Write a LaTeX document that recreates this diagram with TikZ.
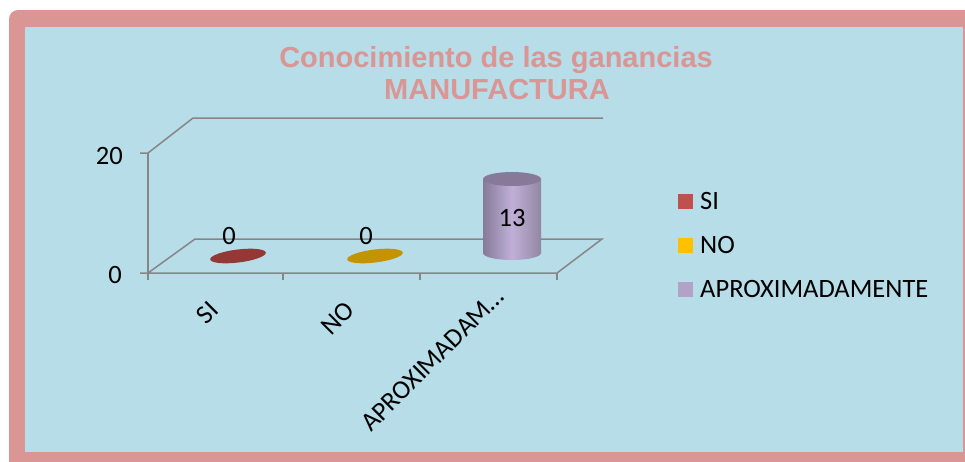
\documentclass[tikz,border=0pt]{standalone}
\usepackage{fontspec}
\setmainfont{Carlito}
\newfontfamily\titlefont{Liberation Sans}
\definecolor{framepink}{RGB}{217,150,148}
\definecolor{plotcyan}{RGB}{183,221,232}
\definecolor{axisgray}{RGB}{134,134,134}
\definecolor{siRed}{RGB}{192,80,77}
\definecolor{siDark}{RGB}{148,56,54}
\definecolor{noGold}{RGB}{255,192,0}
\definecolor{noDark}{RGB}{196,148,0}
\definecolor{aproxLila}{RGB}{178,162,199}
\definecolor{aproxDark}{RGB}{134,122,152}
\definecolor{aproxLight}{RGB}{192,176,216}
\begin{document}
\begin{tikzpicture}[x=1pt,y=-1pt,
	axisline/.style={line width=1.5pt, color=axisgray},
	lbl/.style={font=\fontsize{26.5}{26.5}\selectfont, inner sep=0pt},
	titletext/.style={font=\titlefont\bfseries\fontsize{29}{29}\selectfont, color=framepink, inner sep=0pt, anchor=base},
	keybox/.style={minimum size=15pt, inner sep=0pt}]
			%%%%% START %%%%%
			
			\useasboundingbox (0,0) rectangle (965,461);
			\fill[framepink, rounded corners=9pt] (9,10) rectangle (990,485);
			\fill[plotcyan] (25,27) rectangle (963,452);
			
			\node[titletext] (titleA) at (496,67) {Conocimiento de las ganancias};
			\node[titletext] (titleB) at (497,99) {MANUFACTURA};
			
			\draw[axisline] (140,153) -- (148,153) -- (193,118) -- (603,118);
			\draw[axisline] (148,153) -- (148,273);
			\draw[axisline] (140,273) -- (148,273) -- (557,273) -- (602,239) -- (195,239) -- (148,273);
			\foreach \tx in {148,283,420,557}
				\draw[axisline] (\tx,273) -- (\tx,280);
			
			\node[lbl, anchor=east] (yTop) at (123,156) {20};
			\node[lbl, anchor=east] (yBot) at (122,275) {0};
			
			\fill[siDark, rotate around={7:(238,256)}] (238,256) ellipse [x radius=28, y radius=6.5];
			\fill[noDark, rotate around={7:(375,256)}] (375,256) ellipse [x radius=28, y radius=6.5];
			
			\shade[left color=aproxDark, right color=aproxDark!90, middle color=aproxLight]
				(483,179) -- (483,253) arc (180:0:29 and 7) -- (541,179) -- cycle;
			\fill[aproxDark] (512,179) ellipse [x radius=29, y radius=7];
			
			\node[lbl] (vSI) at (229,236) {0};
			\node[lbl] (vNO) at (366,236) {0};
			\node[lbl] (vAPROX) at (512,218) {13};
			
			\node[lbl, anchor=east, rotate=45] (cSI) at (214,306) {SI};
			\node[lbl, anchor=east, rotate=45] (cNO) at (350,306) {NO};
			\node[lbl, anchor=east, rotate=45] (cAPROX) at (500,292) {APROXIMADAM…};
			
			\node[keybox, fill=siRed] (kSI) at (685.5,201) {};
			\node[keybox, fill=noGold] (kNO) at (685.5,245) {};
			\node[keybox, fill=aproxLila] (kAPROX) at (685.5,289) {};
			\node[lbl, anchor=west] (tSI) at (700,201) {SI};
			\node[lbl, anchor=west] (tNO) at (700,245) {NO};
			\node[lbl, anchor=west] (tAPROX) at (700,289) {APROXIMADAMENTE};
			
			%%%%% END %%%%%
\end{tikzpicture}
\end{document}
